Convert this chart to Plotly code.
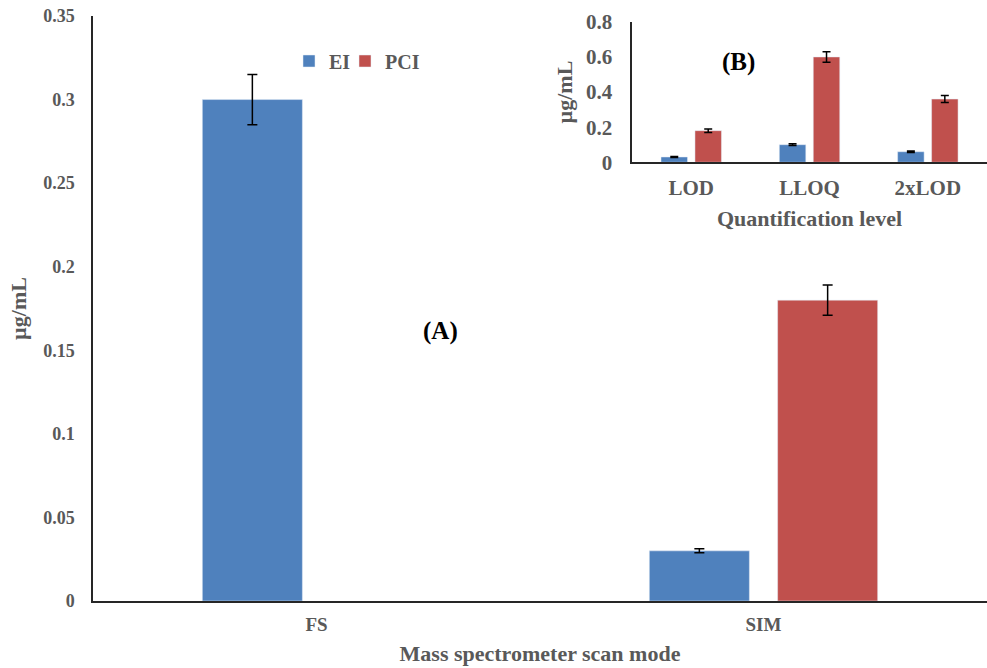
import plotly.graph_objects as go

# Main chart (A)
scan_modes = ["FS", "SIM"]
ei_main = [0.30, 0.03]
ei_main_err = [0.015, 0.0012]
pci_main = [None, 0.18]
pci_main_err = [None, 0.009]

# Inset (B)
levels = ["LOD", "LLOQ", "2xLOD"]
ei_inset = [0.03, 0.10, 0.06]
ei_inset_err = [0.003, 0.005, 0.004]
pci_inset = [0.18, 0.60, 0.36]
pci_inset_err = [0.01, 0.03, 0.02]

BLUE = "#4F81BD"
RED = "#C0504D"
GREY = "#595959"
FONT = "Liberation Serif"


def bfont(size, color=GREY):
    return dict(family=FONT, size=size, color=color, weight="bold")


fig = go.Figure()

fig.add_trace(go.Bar(x=scan_modes, y=ei_main, name="EI", marker_color=BLUE, legend="legend",
                     error_y=dict(type="data", array=ei_main_err, color="black", thickness=1.5, width=5),
                     xaxis="x", yaxis="y"))
fig.add_trace(go.Bar(x=scan_modes, y=pci_main, name="PCI", marker_color=RED, legend="legend2",
                     error_y=dict(type="data", array=pci_main_err, color="black", thickness=1.5, width=5),
                     xaxis="x", yaxis="y"))

fig.add_trace(go.Bar(x=levels, y=ei_inset, name="EI", marker_color=BLUE, showlegend=False,
                     error_y=dict(type="data", array=ei_inset_err, color="black", thickness=1.5, width=4),
                     xaxis="x2", yaxis="y2", offsetgroup="a"))
fig.add_trace(go.Bar(x=levels, y=pci_inset, name="PCI", marker_color=RED, showlegend=False,
                     error_y=dict(type="data", array=pci_inset_err, color="black", thickness=1.5, width=4),
                     xaxis="x2", yaxis="y2", offsetgroup="b"))

legend_common = dict(orientation="h", y=(601 - 61) / 585, xanchor="left", yanchor="middle",
                     font=bfont(20), bgcolor="rgba(0,0,0,0)", itemwidth=30)

fig.update_layout(
    width=987, height=668,
    margin=dict(l=93, r=0, t=16, b=67, autoexpand=False),
    plot_bgcolor="white", paper_bgcolor="white",
    barmode="group", bargap=0.426, bargroupgap=0.22,
    font=dict(family=FONT, color=GREY, size=16),
    showlegend=True,
    legend=dict(x=(289 - 93) / 894, **legend_common),
    legend2=dict(x=(345 - 93) / 894, **legend_common),
    xaxis=dict(domain=[0, 1], showline=True, linecolor="#262626", linewidth=1.5,
               showgrid=False, ticks="", tickfont=bfont(19), ticklabelstandoff=5,
               title=dict(text="Mass spectrometer scan mode", standoff=12, font=bfont(22))),
    yaxis=dict(domain=[0, 1], range=[0, 0.35], dtick=0.05, showline=True, linecolor="#262626",
               linewidth=1.5, showgrid=False, zeroline=False, ticks="",
               tickfont=bfont(18), ticklabelstandoff=13,
               title=dict(text="µg/mL", standoff=10, font=bfont(22))),
    xaxis2=dict(domain=[0.603, 1.0], anchor="y2", showline=True, linecolor="#262626", linewidth=1.5,
                showgrid=False, ticks="", tickfont=bfont(21), ticklabelstandoff=6,
                title=dict(text="Quantification level", standoff=11, font=bfont(22))),
    yaxis2=dict(domain=[0.750, 0.990], anchor="x2", range=[0, 0.8], dtick=0.2, showline=True,
                linecolor="#262626", linewidth=1.5, showgrid=False, zeroline=False, ticks="",
                tickfont=bfont(21), ticklabelstandoff=14,
                title=dict(text="µg/mL", standoff=7, font=bfont(22))),
    annotations=[
        dict(text="(A)", x=(440 - 93) / 894, y=(601 - 331) / 585, xref="paper", yref="paper",
             xanchor="center", yanchor="middle", showarrow=False, font=bfont(25, "black")),
        dict(text="(B)", x=(738.5 - 93) / 894, y=(601 - 62) / 585, xref="paper", yref="paper",
             xanchor="center", yanchor="middle", showarrow=False, font=bfont(25, "black")),
    ],
)

fig.write_html("out.html", config={"displayModeBar": False},
               post_script="document.body.style.margin='0';")
